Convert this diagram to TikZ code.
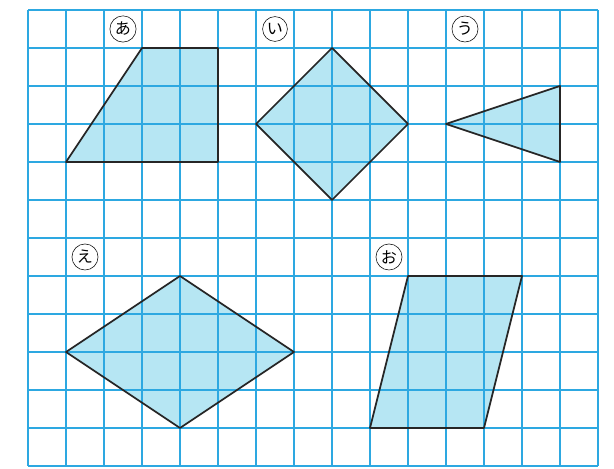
\documentclass[tikz,border=0pt]{standalone}
\usepackage{fontspec}
\newfontfamily\jpfont{Noto Sans CJK JP}
\definecolor{gridblue}{RGB}{45,168,225}
\definecolor{shapefill}{RGB}{182,230,243}
\tikzset{
  markcircle/.style={shape=circle,draw=black,thin,fill=white,inner sep=1.4pt,font=\jpfont\large},
  shapebody/.style={fill=shapefill,draw=none},
  shapeedge/.style={draw=black!85,line width=1.3pt,line join=round},
  gridline/.style={draw=gridblue,line width=1.1pt}
}
\begin{document}
\begin{tikzpicture}
\useasboundingbox (-0.737,-0.053) rectangle (15.421,12.263);

% vertices
\coordinate (a1) at (1,8);  \coordinate (a2) at (3,11); \coordinate (a3) at (5,11); \coordinate (a4) at (5,8);
\coordinate (i1) at (8,11); \coordinate (i2) at (10,9); \coordinate (i3) at (8,7);  \coordinate (i4) at (6,9);
\coordinate (u1) at (11,9); \coordinate (u2) at (14,10); \coordinate (u3) at (14,8);
\coordinate (e1) at (1,3);  \coordinate (e2) at (4,5);  \coordinate (e3) at (7,3);  \coordinate (e4) at (4,1);
\coordinate (o1) at (10,5); \coordinate (o2) at (13,5); \coordinate (o3) at (12,1); \coordinate (o4) at (9,1);

% fills
\path[shapebody] (a1) -- (a2) -- (a3) -- (a4) -- cycle;
\path[shapebody] (i1) -- (i2) -- (i3) -- (i4) -- cycle;
\path[shapebody] (u1) -- (u2) -- (u3) -- cycle;
\path[shapebody] (e1) -- (e2) -- (e3) -- (e4) -- cycle;
\path[shapebody] (o1) -- (o2) -- (o3) -- (o4) -- cycle;

% grid
\foreach \x in {0,...,15} \draw[gridline] (\x,0) -- (\x,12);
\foreach \y in {0,...,12} \draw[gridline] (0,\y) -- (15,\y);

% outlines
\draw[shapeedge] (a1) -- (a2) -- (a3) -- (a4) -- cycle;
\draw[shapeedge] (i1) -- (i2) -- (i3) -- (i4) -- cycle;
\draw[shapeedge] (u1) -- (u2) -- (u3) -- cycle;
\draw[shapeedge] (e1) -- (e2) -- (e3) -- (e4) -- cycle;
\draw[shapeedge] (o1) -- (o2) -- (o3) -- (o4) -- cycle;

% labels
\node[markcircle] (la) at (2.5,11.5) {あ};
\node[markcircle] (li) at (6.5,11.5) {い};
\node[markcircle] (lu) at (11.5,11.5) {う};
\node[markcircle] (le) at (1.5,5.5) {え};
\node[markcircle] (lo) at (9.5,5.5) {お};
\end{tikzpicture}
\end{document}
